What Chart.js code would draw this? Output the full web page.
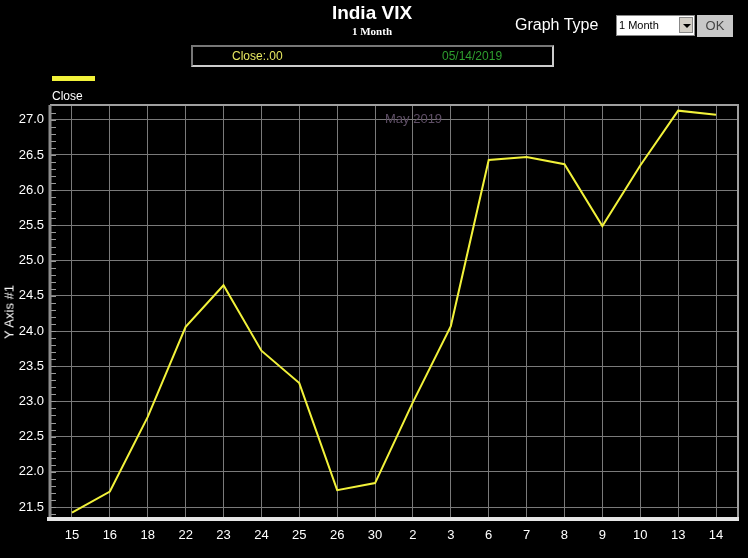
<!DOCTYPE html>
<html>
<head>
<meta charset="utf-8">
<script src="https://cdn.jsdelivr.net/npm/chart.js@4/dist/chart.umd.min.js"></script>
<style>
  html, body { margin: 0; padding: 0; background: #000; }
  #wrap { position: relative; width: 748px; height: 558px; overflow: hidden; font-family: "Liberation Sans", Arial, sans-serif; }
  #chartLine { position: absolute; left: 0; top: 0; }
  .abs { position: absolute; white-space: nowrap; }
  #title { left: 0; width: 744px; top: 2px; text-align: center; color: #fff; font-weight: bold; font-size: 19px; }
  #subtitle { left: 0; width: 744px; top: 25px; text-align: center; color: #fff; font-weight: bold; font-size: 11px; font-family: "Liberation Serif", "Times New Roman", serif; }
  #graphType { left: 515px; top: 16px; color: #fff; font-size: 16px; }
  #sel { left: 616px; top: 15px; width: 77px; height: 19px; background: #fff; border: 1px solid #888; font-size: 11px; color: #000; }
  #sel span { position: absolute; left: 2px; top: 3px; }
  #sel i { position: absolute; right: 1px; top: 1px; width: 14px; height: 16px; background: #d4d0c8; border: 1px solid #888; box-sizing: border-box; }
  #sel i:after { content: ""; position: absolute; left: 3px; top: 6px; border-left: 4px solid transparent; border-right: 4px solid transparent; border-top: 4px solid #000; }
  #ok { left: 697px; top: 15px; width: 36px; height: 22px; background: #c8c8c8; color: #444; font-size: 13px; text-align: center; line-height: 22px; }
  #info { left: 191px; top: 45px; width: 359px; height: 18px; border: 2px solid #ccc; border-top-color: #777; border-left-color: #777; font-size: 12px; }
  #info .c { position: absolute; left: 39px; top: 2px; color: #e8e860; }
  #info .d { position: absolute; left: 249px; top: 2px; color: #2e9e2e; }
  #legLine { left: 52px; top: 76px; width: 43px; height: 5px; background: #f2f23a; }
  #legText { left: 52px; top: 89px; color: #fff; font-size: 12px; }
  #month { left: 385px; top: 111px; color: #5f4f66; font-size: 13px; }
  #yTitle { left: 9px; top: 312px; color: #fff; font-size: 13px; transform: translate(-50%, -50%) rotate(-90deg); }
</style>
</head>
<body>
<div id="wrap">
  <canvas id="chartLine" width="748" height="558"></canvas>
  <div class="abs" id="title">India VIX</div>
  <div class="abs" id="subtitle">1 Month</div>
  <div class="abs" id="graphType">Graph Type</div>
  <div class="abs" id="sel"><span>1 Month</span><i></i></div>
  <div class="abs" id="ok">OK</div>
  <div class="abs" id="info"><span class="c">Close:.00</span><span class="d">05/14/2019</span></div>
  <div class="abs" id="legLine"></div>
  <div class="abs" id="legText">Close</div>
  <div class="abs" id="month">May 2019</div>
  <div class="abs" id="yTitle">Y Axis #1</div>
</div>
<script>
const days = ["15", "16", "18", "22", "23", "24", "25", "26", "30", "2", "3", "6", "7", "8", "9", "10", "13", "14"];
const closeValues = [21.42, 21.72, 22.78, 24.06, 24.65, 23.72, 23.26, 21.74, 21.84, 22.99, 24.07, 26.43, 26.47, 26.37, 25.49, 26.35, 27.13, 27.07];
const yTicks = [21.5, 22.0, 22.5, 23.0, 23.5, 24.0, 24.5, 25.0, 25.5, 26.0, 26.5, 27.0];

const points = closeValues.map((v, i) => ({ x: i, y: v }));

// minor ticks on the left axis + frame of the plot
const frame = {
  id: "frame",
  afterDraw: chart => {
    const ctx = chart.ctx;
    const a = chart.chartArea;
    const y = chart.scales.y;
    ctx.save();
    ctx.strokeStyle = "#9a9a9a";
    ctx.lineWidth = 1;
    for (let v = 21.4; v <= 27.2; v += 0.1) {
      const p = Math.round(y.getPixelForValue(v)) + 0.5;
      if (p < a.top || p > a.bottom) continue;
      ctx.beginPath();
      ctx.moveTo(a.left, p);
      ctx.lineTo(a.left + 6, p);
      ctx.stroke();
    }
    ctx.strokeStyle = "#a0a0a0";
    ctx.lineWidth = 2;
    ctx.beginPath();
    ctx.moveTo(a.left, a.top);
    ctx.lineTo(a.right, a.top);
    ctx.lineTo(a.right, a.bottom);
    ctx.stroke();
    ctx.strokeStyle = "#8c8c8c";
    ctx.lineWidth = 3;
    ctx.beginPath();
    ctx.moveTo(a.left, a.top);
    ctx.lineTo(a.left, a.bottom);
    ctx.stroke();
    ctx.strokeStyle = "#e6e6e6";
    ctx.lineWidth = 4;
    ctx.beginPath();
    ctx.moveTo(a.left - 3, a.bottom);
    ctx.lineTo(a.right + 1, a.bottom);
    ctx.stroke();
    ctx.restore();
  },
};

const chart = new Chart(document.getElementById("chartLine").getContext("2d"), {
  type: "line",
  data: {
    datasets: [
      {
        label: "Close",
        data: points,
        borderColor: "#f2f23a",
        borderWidth: 2,
        pointRadius: 0,
        tension: 0,
      },
    ],
  },
  options: {
    responsive: false,
    animation: false,
    layout: { padding: { top: 105, right: 10, left: 0, bottom: 0 } },
    plugins: { legend: { display: false }, tooltip: { enabled: false } },
    scales: {
      x: {
        type: "linear",
        min: -0.58,
        max: 17.58,
        afterFit: scale => { scale.height = 39; },
        afterBuildTicks: scale => {
          scale.ticks = days.map((d, i) => ({ value: i }));
        },
        grid: { color: "#7a7a7a", lineWidth: 1, drawTicks: false },
        border: { display: false },
        ticks: {
          color: "#fff",
          padding: 9,
          font: { size: 13, family: "'Liberation Sans Narrow', 'Liberation Sans', Arial" },
          callback: (v) => days[v],
          autoSkip: false,
          maxRotation: 0,
        },
      },
      y: {
        min: 21.33,
        max: 27.21,
        afterFit: scale => { scale.width = 50; },
        afterBuildTicks: scale => {
          scale.ticks = yTicks.map(v => ({ value: v }));
        },
        grid: { color: "#7a7a7a", lineWidth: 1, drawTicks: false },
        border: { display: false },
        ticks: {
          color: "#fff",
          padding: 6,
          font: { size: 13, family: "'Liberation Sans', Arial" },
          callback: v => v.toFixed(1),
        },
      },
    },
  },
  plugins: [frame],
});
</script>
</body>
</html>
